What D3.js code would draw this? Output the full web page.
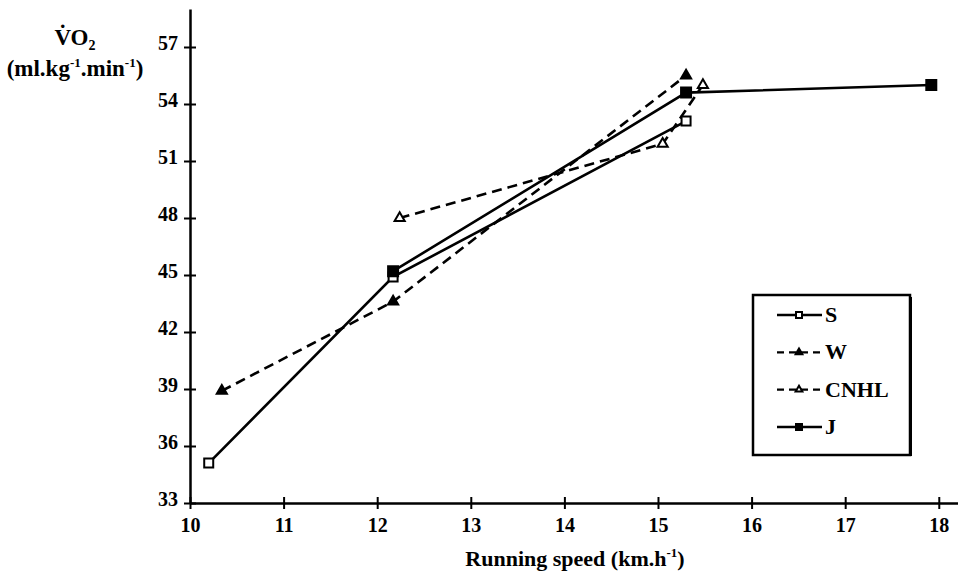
<!DOCTYPE html>
<html>
<head>
<meta charset="utf-8">
<script src="https://cdn.jsdelivr.net/npm/d3@7"></script>
<style>
  html, body { margin: 0; padding: 0; background: #fff; }
  svg text { font-family: "Liberation Serif", "DejaVu Serif", "Noto Serif", serif; }
</style>
</head>
<body>
<svg id="chart" width="958" height="580"></svg>
<script>
// Running speed (km/h) and VO2 (ml/kg/min) per study
const sSpeed = [10.2, 12.17, 15.3];
const sVO2 = [35.1, 44.9, 53.1];

const wSpeed = [10.34, 12.17, 15.3];
const wVO2 = [38.9, 43.6, 55.5];

const cnhlSpeed = [12.24, 15.05, 15.48];
const cnhlVO2 = [48.0, 51.9, 55.0];

const jSpeed = [12.17, 15.3, 17.92];
const jVO2 = [45.2, 54.6, 55.0];

const xTicks = [10, 11, 12, 13, 14, 15, 16, 17, 18];
const yTicks = [33, 36, 39, 42, 45, 48, 51, 54, 57];

const seriesNames = ["S", "W", "CNHL", "J"];

const FONT = "'Liberation Serif', 'DejaVu Serif', 'Noto Serif', serif";

const svg = d3.select("#chart");

const x = d3.scaleLinear().domain([10, 18.2]).range([190, 957.5]);
const y = d3.scaleLinear().domain([33, 59]).range([503, 9]);

// Axes with ticks that cross the axis line
const yAxis = svg.append("g")
  .attr("transform", `translate(${x(10)},0)`)
  .call(d3.axisLeft(y).tickValues(yTicks).tickSize(6).tickSizeOuter(0).tickPadding(6));
yAxis.selectAll(".tick line").attr("x1", -6).attr("x2", 6);

const xAxis = svg.append("g")
  .attr("transform", `translate(0,${y(33)})`)
  .call(d3.axisBottom(x).tickValues(xTicks).tickSize(6).tickSizeOuter(0).tickPadding(9));
xAxis.selectAll(".tick line").attr("y1", -6).attr("y2", 6);

[yAxis, xAxis].forEach(g => {
  g.attr("font-family", FONT);
  g.select(".domain").attr("stroke", "#000").attr("stroke-width", 2.5);
  g.selectAll(".tick line").attr("stroke", "#000").attr("stroke-width", 2);
  g.selectAll(".tick text")
    .attr("fill", "#000")
    .attr("font-family", FONT)
    .attr("font-weight", "bold")
    .attr("font-size", 20);
});
yAxis.selectAll(".tick text").attr("dy", "0.12em");

// Axis titles
const yTitle = svg.append("text")
  .attr("x", 75).attr("y", 45)
  .attr("text-anchor", "middle")
  .attr("font-family", FONT)
  .attr("font-weight", "bold").attr("font-size", 23);
yTitle.append("tspan").text("V\u0307O");
yTitle.append("tspan").attr("dy", 5).attr("font-size", 14).text("2");

const yUnit = svg.append("text")
  .attr("x", 75).attr("y", 76)
  .attr("text-anchor", "middle")
  .attr("font-family", FONT)
  .attr("font-weight", "bold").attr("font-size", 23);
yUnit.append("tspan").text("(ml.kg");
yUnit.append("tspan").attr("dy", -9).attr("font-size", 13).text("-1");
yUnit.append("tspan").attr("dy", 9).text(".min");
yUnit.append("tspan").attr("dy", -9).attr("font-size", 13).text("-1");
yUnit.append("tspan").attr("dy", 9).text(")");

const xTitle = svg.append("text")
  .attr("x", 575).attr("y", 566)
  .attr("text-anchor", "middle")
  .attr("font-family", FONT)
  .attr("font-weight", "bold").attr("font-size", 22);
xTitle.append("tspan").text("Running speed (km.h");
xTitle.append("tspan").attr("dy", -9).attr("font-size", 13).text("-1");
xTitle.append("tspan").attr("dy", 9).text(")");

// Series
const series = [
  { name: "S", xs: sSpeed, ys: sVO2, dash: null, marker: "squareOpen" },
  { name: "W", xs: wSpeed, ys: wVO2, dash: "10,6", marker: "triFilled" },
  { name: "CNHL", xs: cnhlSpeed, ys: cnhlVO2, dash: "10,6", marker: "triOpen" },
  { name: "J", xs: jSpeed, ys: jVO2, dash: null, marker: "squareFilled" }
];

const line = d3.line().x(d => x(d[0])).y(d => y(d[1]));

function drawMarker(g, type, cx, cy, size) {
  const isSquare = type === "squareOpen" || type === "squareFilled";
  const open = type === "squareOpen" || type === "triOpen";
  g.append("path")
    .attr("d", isSquare
      ? d3.symbol(d3.symbolSquare, size * size)()
      : d3.symbol(d3.symbolTriangle, size * size * 0.55)())
    .attr("transform", `translate(${cx},${cy})`)
    .attr("fill", open ? "#fff" : "#000")
    .attr("stroke", "#000").attr("stroke-width", 2);
}

const plot = svg.append("g");
series.forEach(s => {
  const pts = s.xs.map((v, i) => [v, s.ys[i]]);
  plot.append("path")
    .datum(pts)
    .attr("d", line)
    .attr("fill", "none")
    .attr("stroke", "#000")
    .attr("stroke-width", 2.6)
    .attr("stroke-dasharray", s.dash);
});
series.forEach(s => {
  s.xs.forEach((v, i) => {
    const sz = s.marker === "squareFilled" ? 10 : 9;
    drawMarker(plot, s.marker, x(v), y(s.ys[i]), sz);
  });
});

// Legend
const legend = svg.append("g");
legend.append("rect")
  .attr("x", 753).attr("y", 295).attr("width", 157).attr("height", 160)
  .attr("fill", "#fff").attr("stroke", "#000").attr("stroke-width", 2.5);
legend.append("line")
  .attr("x1", 911).attr("y1", 297).attr("x2", 911).attr("y2", 456)
  .attr("stroke", "#000").attr("stroke-width", 2);

const legendY = d3.scalePoint().domain(seriesNames).range([315, 427]);
series.forEach(s => {
  const ly = legendY(s.name);
  legend.append("line")
    .attr("x1", 777).attr("x2", 822).attr("y1", ly).attr("y2", ly)
    .attr("stroke", "#000").attr("stroke-width", 2.4)
    .attr("stroke-dasharray", s.dash ? "7,5" : null);
  drawMarker(legend, s.marker, 799, ly, 6);
  legend.append("text")
    .attr("x", 825).attr("y", ly + 7)
    .attr("font-family", FONT)
    .attr("font-weight", "bold").attr("font-size", 22)
    .text(s.name);
});
</script>
</body>
</html>
